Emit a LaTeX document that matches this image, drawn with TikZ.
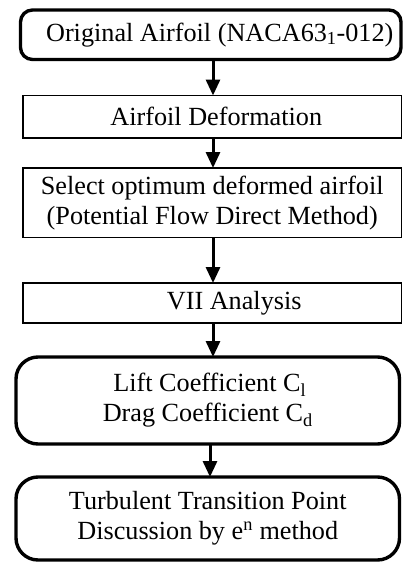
\documentclass[tikz,border=0pt]{standalone}
\usepackage{fontspec}
\setmainfont{Liberation Serif}
\usetikzlibrary{arrows.meta}
\tikzset{
  base/.style={draw=black, align=center, inner sep=0pt, outer sep=0pt,
    font=\fontsize{26.2}{30}\selectfont},
  roundbox/.style={base, rounded corners=#1, line width=3.4pt},
  rectbox/.style={base, rectangle, line width=1.3pt},
  arr/.style={line width=3pt, -{Triangle[length=16pt,width=14pt]}}
}
\begin{document}
\begin{tikzpicture}[x=1pt,y=-1pt]
\useasboundingbox (0,0) rectangle (404,563);
\node[roundbox=12pt, minimum width=380.5pt, minimum height=49.5pt] (b1) at (210.75,34.75)
  {\hspace*{18pt}Original Airfoil (NACA63\textsubscript{1}-012)};
\node[rectbox, minimum width=378.5pt, minimum height=42.5pt] (b2) at (212.25,116.75)
  {\hspace*{8pt}Airfoil Deformation};
\node[rectbox, minimum width=378.5pt, minimum height=69.5pt] (b3) at (212.25,202.75)
  {Select optimum deformed airfoil\\(Potential Flow Direct Method)};
\node[rectbox, minimum width=378.5pt, minimum height=40pt] (b4) at (212.25,303)
  {\hspace*{44pt}VII Analysis};
\node[roundbox=22pt, minimum width=383.5pt, minimum height=87pt] (b5) at (207.75,400.5)
  {\hspace*{4pt}Lift Coefficient C\textsubscript{l}\\Drag Coefficient C\textsubscript{d}};
\node[roundbox=22pt, minimum width=383.5pt, minimum height=83pt] (b6) at (207.75,518.5)
  {Turbulent Transition Point\\Discussion by e\textsuperscript{n} method};
\coordinate (ax) at (213,0);
\coordinate (ay) at (210,0);
\draw[arr] (b1.south -| ax) -- (b2.north -| ax);
\draw[arr] (b2.south -| ax) -- (b3.north -| ax);
\draw[arr] (b3.south -| ax) -- (b4.north -| ax);
\draw[arr] (b4.south -| ax) -- (b5.north -| ax);
\draw[arr] (b5.south -| ay) -- (b6.north -| ay);
\end{tikzpicture}
\end{document}
